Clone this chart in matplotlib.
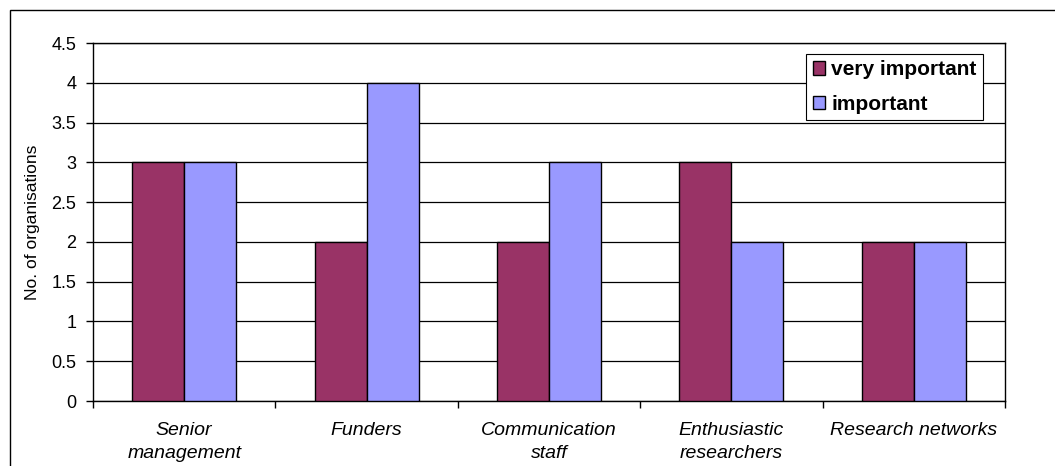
import matplotlib
matplotlib.use("Agg")
import matplotlib.pyplot as plt
import numpy as np
from matplotlib.patches import Rectangle

plt.rcParams['font.family'] = ['Liberation Sans', 'DejaVu Sans']

categories = ["Senior\nmanagement", "Funders", "Communication\nstaff",
              "Enthusiastic\nresearchers", "Research networks"]
very_important = [3, 2, 2, 3, 2]
important = [3, 4, 3, 2, 2]
series_names = ["very important", "important"]
colors = ["#993366", "#9999FF"]
y_ticks = [0, 0.5, 1, 1.5, 2, 2.5, 3, 3.5, 4, 4.5]

W, H = 1055, 466
fig = plt.figure(figsize=(W / 100, H / 100), dpi=100)
fig.patch.set_facecolor("white")

# outer chart frame (open to the right and bottom)
fig.patches.append(Rectangle((10 / W, -0.05), 1.2, 1 - 10 / H + 0.05,
                             transform=fig.transFigure, fill=False,
                             edgecolor="black", linewidth=1.0, zorder=0))

ax = fig.add_axes([93 / W, 1 - 401 / H, (1005 - 93) / W, (401 - 43) / H])

x = np.arange(len(categories))
bw = 0.285
ax.bar(x - bw / 2, very_important, bw, color=colors[0], edgecolor="black",
       linewidth=1.0, label=series_names[0], zorder=3)
ax.bar(x + bw / 2, important, bw, color=colors[1], edgecolor="black",
       linewidth=1.0, label=series_names[1], zorder=3)

ax.set_xlim(-0.5, len(categories) - 0.5)
ax.set_ylim(0, 4.5)
ax.set_yticks(y_ticks)
ax.set_yticklabels([f"{t:g}" for t in y_ticks], fontsize=13)
ax.yaxis.grid(True, color="black", linewidth=0.9, zorder=0)
ax.set_axisbelow(True)

ax.set_xticks(x)
ax.set_xticklabels(categories, fontsize=14, style="italic", linespacing=1.45)
ax.tick_params(axis="x", which="major", length=0, pad=15)
ax.set_xticks(np.arange(len(categories) + 1) - 0.5, minor=True)
ax.tick_params(axis="x", which="minor", length=5, width=1, direction="out")
ax.tick_params(axis="y", length=5, width=1, direction="out", pad=7)

for s in ax.spines.values():
    s.set_color("black")
    s.set_linewidth(1.0)

ax.set_ylabel("No. of organisations", fontsize=12.5, labelpad=8)

leg = ax.legend(loc="upper right", bbox_to_anchor=(0.976, 0.969),
                prop={"weight": "bold", "size": 15}, frameon=True,
                fancybox=False, edgecolor="black", framealpha=1,
                handlelength=0.6, handleheight=0.6, handletextpad=0.3,
                borderpad=0.3, labelspacing=0.75, borderaxespad=0)
leg.get_frame().set_linewidth(0.8)

fig.savefig("out.png", dpi=100, facecolor="white")
